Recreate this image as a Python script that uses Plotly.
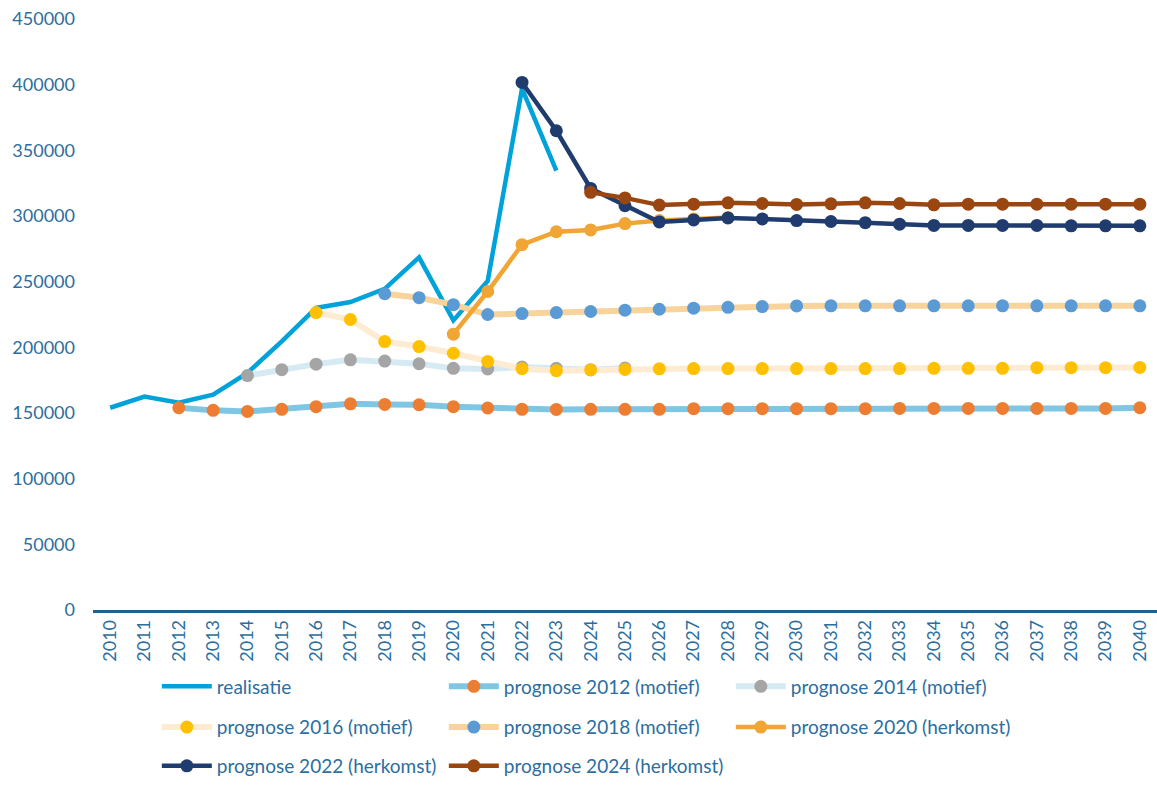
import plotly.graph_objects as go

# Jaartallen op de x-as
years = list(range(2010, 2041))

# Gerealiseerde aantallen
realisatie_years = list(range(2010, 2024))
realisatie = [154000, 162500, 157800, 164000, 180500, 204600, 230000, 234500,
              244500, 268500, 220500, 250500, 397000, 334500]

# Prognoses per jaar van uitgave
p2012_years = list(range(2012, 2041))
p2012 = [154000, 152000, 151200, 152800, 154800, 157000, 156500, 156300, 154800,
         153800, 152800, 152700, 152800, 152800, 152800, 153300, 153300, 153300,
         153300, 153300, 153300, 153500, 153500, 153500, 153500, 153500, 153500,
         153500, 154000]

p2014_years = list(range(2014, 2026))
p2014 = [178500, 183000, 187200, 190500, 189500, 187500, 184000, 183500,
         185000, 184000, 183000, 184200]

p2016_years = list(range(2016, 2041))
p2016 = [226500, 221200, 204400, 200600, 195500, 189300, 183700, 182200, 182800,
         183200, 183600, 183800, 183800, 183800, 183800, 183800, 183800, 183800,
         184000, 184000, 184000, 184500, 184500, 184500, 184700]

p2018_years = list(range(2018, 2041))
p2018 = [240800, 237800, 232500, 225000, 225700, 226500, 227300, 228300, 229000,
         229800, 230500, 231000, 231500, 231600, 231600, 231600, 231600, 231600,
         231600, 231600, 231600, 231600, 231600]

p2020_years = list(range(2020, 2029))
p2020 = [210000, 242500, 278200, 288000, 289400, 294200, 296500, 297800, 298800]

p2022_years = list(range(2022, 2041))
p2022 = [401700, 364900, 321000, 307800, 295500, 297000, 298500, 297800, 296500,
         295800, 294900, 293800, 292800, 292800, 292800, 292800, 292500, 292500,
         292500]

p2024_years = list(range(2024, 2041))
p2024 = [318000, 313800, 308300, 309000, 310000, 309500, 308800, 309300, 310000,
         309500, 308500, 309000, 309000, 309000, 309000, 309000, 309000]

y_ticks = list(range(0, 450001, 50000))

TEXT = "#2C6E9E"
FONT = "Lato"

fig = go.Figure()

fig.add_trace(go.Scatter(
    x=realisatie_years, y=realisatie, name="realisatie", mode="lines",
    line=dict(color="#00A2DA", width=4.5), legend="legend"))

series = [
    ("prognose 2012 (motief)", p2012_years, p2012, "#7FC6E5", "#ED7D31", 6, "legend"),
    ("prognose 2014 (motief)", p2014_years, p2014, "#D5EAF3", "#A5A5A5", 6, "legend"),
    ("prognose 2016 (motief)", p2016_years, p2016, "#FDEBD2", "#FFC000", 6, "legend2"),
    ("prognose 2018 (motief)", p2018_years, p2018, "#F8D49C", "#5B9BD5", 6, "legend2"),
    ("prognose 2020 (herkomst)", p2020_years, p2020, "#F0A535", "#F0A535", 4.5, "legend2"),
    ("prognose 2022 (herkomst)", p2022_years, p2022, "#203C6E", "#203C6E", 4.5, "legend3"),
    ("prognose 2024 (herkomst)", p2024_years, p2024, "#9A4610", "#9A4610", 4.5, "legend3"),
]
for name, xs, ys, lc, mc, lw, lg in series:
    fig.add_trace(go.Scatter(
        x=xs, y=ys, name=name, mode="lines+markers",
        line=dict(color=lc, width=lw),
        marker=dict(color=mc, size=13),
        legend=lg))

PLOT_TOP, PLOT_BOTTOM = 19, 614
PLOT_H = PLOT_BOTTOM - PLOT_TOP


def row_y(px):
    return -(px - PLOT_BOTTOM) / PLOT_H


legend_common = dict(orientation="h", xanchor="left", yanchor="middle",
                     x=0.06, entrywidth=222, entrywidthmode="pixels",
                     itemwidth=50, bgcolor="rgba(0,0,0,0)",
                     font=dict(family=FONT, size=19, color=TEXT))

fig.update_layout(
    width=1157, height=785,
    margin=dict(l=93, r=0, t=PLOT_TOP, b=785 - PLOT_BOTTOM),
    paper_bgcolor="white", plot_bgcolor="white",
    font=dict(family=FONT, size=18, color=TEXT),
    showlegend=True,
    legend=dict(y=row_y(691), **legend_common),
    legend2=dict(y=row_y(732), **legend_common),
    legend3=dict(y=row_y(771), **legend_common),
    xaxis=dict(
        range=[2009.5, 2040.5], tickmode="array", tickvals=years,
        ticktext=[str(y) for y in years], tickangle=-90,
        showgrid=False, zeroline=False, showline=True,
        linecolor="#1F628E", linewidth=2.5, ticks="",
        tickfont=dict(family=FONT, size=18, color=TEXT)),
    yaxis=dict(
        range=[0, 450000], tickmode="array", tickvals=y_ticks,
        ticktext=[str(v) for v in y_ticks],
        showgrid=False, zeroline=False, showline=False, ticks="",
        ticklabelstandoff=17,
        tickfont=dict(family=FONT, size=18, color=TEXT)),
)

fig.write_html("out.html")
